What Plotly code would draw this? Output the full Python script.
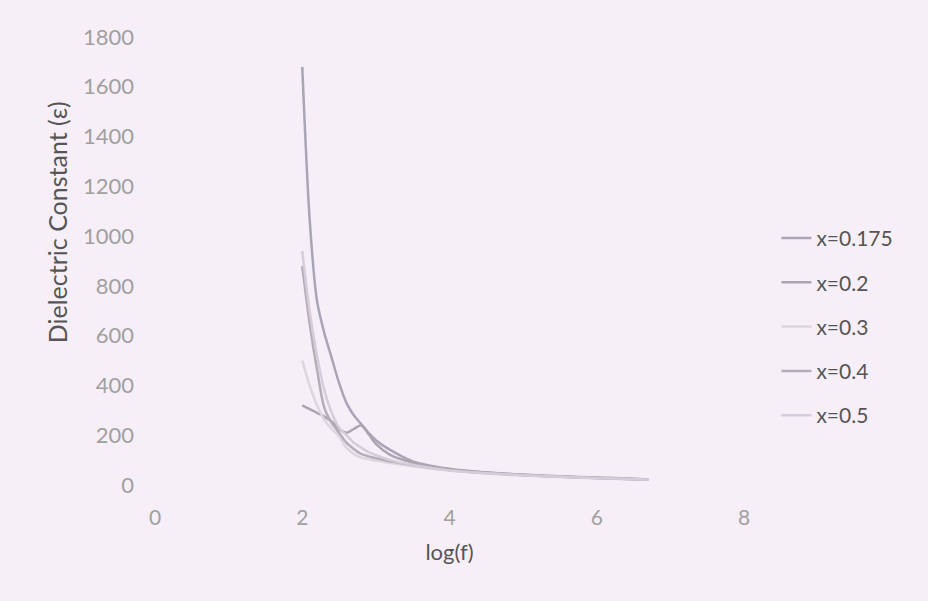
import plotly.graph_objects as go

log_f = [2.0, 2.1, 2.2, 2.3, 2.4, 2.5, 2.6, 2.7, 2.8, 2.9, 3.0, 3.2, 3.5, 4.0, 4.5, 5.0, 5.5, 6.0, 6.5, 6.7]

eps_x0175 = [1680, 1070, 740, 610, 510, 410, 330, 280, 245, 210, 180, 140, 95, 65, 50, 42, 35, 30, 25, 22]
eps_x02 = [320, 305, 290, 275, 255, 225, 210, 225, 240, 205, 165, 120, 90, 62, 50, 40, 34, 28, 24, 21]
eps_x03 = [500, 400, 320, 262, 225, 195, 150, 125, 110, 104, 98, 88, 75, 58, 46, 38, 32, 27, 22, 20]
eps_x04 = [880, 650, 465, 310, 250, 210, 170, 145, 125, 115, 108, 95, 80, 60, 48, 40, 33, 28, 23, 21]
eps_x05 = [940, 700, 520, 380, 290, 230, 200, 170, 150, 132, 120, 100, 80, 58, 47, 39, 33, 28, 24, 21]

series_names = ["x=0.175", "x=0.2", "x=0.3", "x=0.4", "x=0.5"]
series_vals = [eps_x0175, eps_x02, eps_x03, eps_x04, eps_x05]
series_colors = ["#aaa5b6", "#aca5af", "#ddd6df", "#b5adb7", "#d5cdda"]

y_title = "Dielectric Constant (ε)"
x_title = "log(f)"

fig = go.Figure()
for i, (name, vals, col) in enumerate(zip(series_names, series_vals, series_colors)):
    fig.add_trace(go.Scatter(
        x=log_f, y=vals, name=name, mode="lines",
        line=dict(color=col, width=2.5, shape="spline", smoothing=0.8),
        legendgroup=f"g{i}",
    ))

font_family = "Lato, 'Open Sans', sans-serif"
bg = "#f7eff7"
fig.update_layout(
    width=928, height=601,
    margin=dict(l=155, r=184, t=37, b=116),
    paper_bgcolor=bg,
    plot_bgcolor=bg,
    font=dict(family=font_family, color="#999999"),
    showlegend=True,
    legend=dict(
        x=1.055, xanchor="left", y=0.353, yanchor="middle",
        font=dict(size=21, color="#555555", family=font_family),
        tracegroupgap=14, bgcolor="rgba(0,0,0,0)",
    ),
    xaxis=dict(
        range=[0, 8], dtick=2, tick0=0, showgrid=False, zeroline=False,
        showline=False, ticks="", ticklabelstandoff=18,
        tickfont=dict(size=21, color="#a0a0a0", family=font_family),
        title=dict(text=x_title, font=dict(size=22, color="#555555", family=font_family), standoff=16),
    ),
    yaxis=dict(
        range=[0, 1800], dtick=200, tick0=0, showgrid=False, zeroline=False,
        showline=False, ticks="", ticklabelstandoff=20,
        tickfont=dict(size=22, color="#a0a0a0", family=font_family),
    ),
    annotations=[dict(
        text=y_title, textangle=-90, showarrow=False,
        xref="paper", yref="paper", x=-0.166, y=0.587,
        xanchor="center", yanchor="middle",
        font=dict(size=25, color="#555555", family=font_family),
    )],
)

post = "document.body.style.margin='0';document.body.style.background='%s';" % bg
fig.write_html("out.html", post_script=post, config={"displayModeBar": False})
